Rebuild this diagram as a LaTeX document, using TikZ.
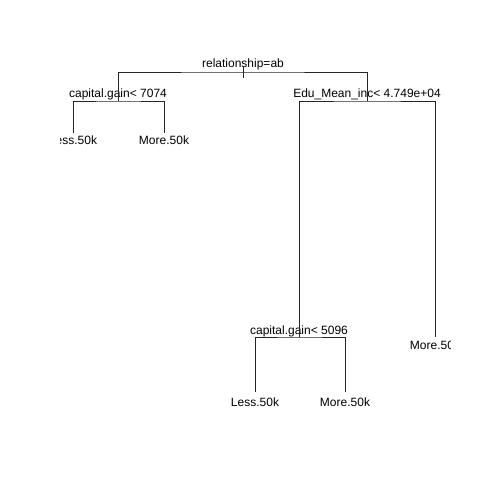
\documentclass[tikz,border=0pt]{standalone}
\usepackage{fontspec}
\setmainfont{Liberation Sans}
\usetikzlibrary{positioning}
\tikzset{
  split/.style={anchor=base, inner sep=0pt, font=\fontsize{12bp}{14bp}\selectfont},
  leaf/.style={split},
  branch/.style={line width=0.8bp, black!85},
}

\begin{document}
\begin{tikzpicture}[x=1bp, y=-1bp]
  \useasboundingbox (0,0) rectangle (480,480);
  \begin{scope}
  \clip (60,0) rectangle (450,480);
    % Nodi dell'albero
    \coordinate (root) at (243,72);
    \coordinate (rtop) at (243,66);
    \coordinate (rbot) at (243,78);
    \coordinate (cgA) at (118,101);
    \coordinate (edu) at (367,101);
    \coordinate (cgB) at (299,337);
    \coordinate (lA) at (73,133);
    \coordinate (mA) at (164,133);
    \coordinate (lB) at (255,392);
    \coordinate (mB) at (345,392);
    \coordinate (mC) at (435,337);

    \node[above=4bp of root, split] (rootlab) {relationship=ab};
    \node[above=3bp of cgA, split] (cgAlab) {capital.gain< 7074};
    \node[above=3bp of edu, split] (edulab) {Edu\_Mean\_inc< 4.749e+04};
    \node[above=3bp of cgB, split] (cgBlab) {capital.gain< 5096};
    \node[below=12bp of lA, leaf] (lAlab) {Less.50k};
    \node[below=12bp of mA, leaf] (mAlab) {More.50k};
    \node[below=14bp of lB, leaf] (lBlab) {Less.50k};
    \node[below=14bp of mB, leaf] (mBlab) {More.50k};
    \node[below=12bp of mC, leaf] (mClab) {More.50k};

    \draw[branch] (rtop) -- (rbot);
    \draw[branch] (cgA) |- (root) -| (edu);
    \draw[branch] (lA) |- (cgA) -| (mA);
    \draw[branch] (cgB) |- (edu) -| (mC);
    \draw[branch] (lB) |- (cgB) -| (mB);
  \end{scope}
\end{tikzpicture}
\end{document}
